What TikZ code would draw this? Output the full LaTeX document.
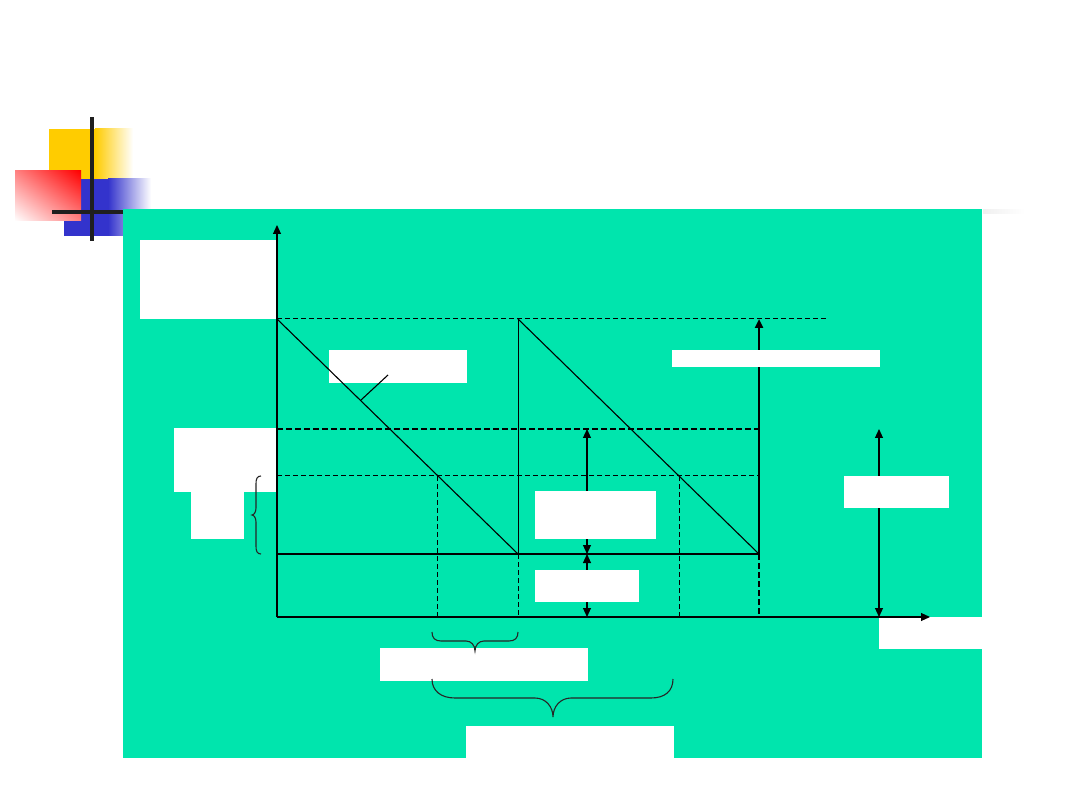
\documentclass[tikz,border=0pt]{standalone}
\usetikzlibrary{arrows.meta,shadings}
\definecolor{bggreen}{RGB}{0,229,173}
\definecolor{yel}{RGB}{255,204,0}
\definecolor{blu}{RGB}{51,51,204}
\definecolor{redl}{RGB}{255,130,130}
\begin{document}
\begin{tikzpicture}[x=1pt,y=-1pt,
  ln/.style={line width=1.1pt},
  thin dsh/.style={line width=1.0pt, dash pattern=on 5pt off 3pt},
  thick dsh/.style={line width=1.6pt, dash pattern=on 6pt off 3pt},
  tri/.style={-{Triangle[length=9pt,width=8pt]}},
  dbl/.style={{Triangle[length=9pt,width=8pt]}-{Triangle[length=9pt,width=8pt]}},
  wbox/.style={fill=white, draw=none, inner sep=0pt, anchor=north west},
  brace/.style={line width=1.1pt, draw=black!85}]
\useasboundingbox (0,0) rectangle (1080,810);
\fill[white] (0,0) rectangle (1080,810);
% decoration
\fill[yel] (49,129) rectangle (96,179);
\shade[left color=yel, right color=white] (95,129) rectangle (133,179);
\fill[blu] (64,179) rectangle (109,236);
\shade[left color=blu, right color=white] (108,179) rectangle (151,236);
\shade[upper right=red, lower left=white, upper left=redl, lower right=redl] (15,171) rectangle (81,221);
% green panel
\fill[bggreen] (123,209) rectangle (982,758);
\shade[left color=black!6, right color=white] (983,210) rectangle (1025,214);
\fill[black!88] (90,117) rectangle (94,241);
\fill[black!88] (52,210) rectangle (123,214);
% boxes under lines
\node[wbox, minimum width=137pt, minimum height=79pt] (b1) at (140,240) {};
\node[wbox, minimum width=138pt, minimum height=33pt] (b2) at (329,350) {};
\node[wbox, minimum width=103pt, minimum height=64pt] (b4) at (174,428) {};
\node[wbox, minimum width=53pt, minimum height=47pt] (b4b) at (191,492) {};
\node[wbox, minimum width=103pt, minimum height=32pt] (b8) at (879,617) {};
\node[wbox, minimum width=208pt, minimum height=33pt] (b9) at (380,648) {};
\node[wbox, minimum width=208pt, minimum height=32pt] (b10) at (466,726) {};
% coordinates
\coordinate (O) at (277,617);
\coordinate (Ytop) at (277,225);
\coordinate (Xend) at (930,617);
\coordinate (A) at (277,319);
\coordinate (B) at (518,319);
\coordinate (C) at (759,319);
\coordinate (Dend) at (828,319);
\coordinate (L) at (277,554);
\coordinate (P) at (518,554);
\coordinate (Q) at (759,554);
\coordinate (H1l) at (277,429);
\coordinate (H1r) at (759,429);
\coordinate (H2l) at (277,476);
\coordinate (H2r) at (759,476);
\coordinate (I1) at (437,476);
\coordinate (I1b) at (437,617);
\coordinate (I2) at (679,476);
\coordinate (I2b) at (679,617);
\coordinate (Pb) at (518,617);
\coordinate (Qb) at (759,617);
\coordinate (M1) at (587,429);
\coordinate (M2) at (587,554);
\coordinate (M3) at (587,617);
\coordinate (R1) at (879,429);
\coordinate (R2) at (879,617);
\coordinate (S1) at (361,400);
\coordinate (S2) at (388,375);
% axes
\draw[ln, tri] (O) -- (Ytop);
\draw[ln, tri] (O) -- (Xend);
% dashed levels
\draw[thin dsh] (A) -- (Dend);
\draw[thick dsh] (H1l) -- (H1r);
\draw[thin dsh] (H2l) -- (H2r);
% solid lines
\draw[ln] (A) -- (P);
\draw[ln] (B) -- (Q);
\draw[line width=1pt] (B) -- (P);
\draw[ln] (L) -- (Q);
\draw[ln] (S1) -- (S2);
\draw[line width=2.4pt, tri] (Q) -- (C);
% vertical dashed drops
\draw[thin dsh] (I1) -- (I1b);
\draw[thin dsh] (I2) -- (I2b);
\draw[thin dsh] (P) -- (Pb);
\draw[thick dsh] (Q) -- (Qb);
% double arrows
\draw[ln, dbl] (M1) -- (M2);
\draw[ln, dbl] (M2) -- (M3);
\draw[ln, dbl] (R1) -- (R2);
% boxes over arrows
\node[wbox, minimum width=208pt, minimum height=17pt] (b3) at (672,350) {};
\node[wbox, minimum width=121pt, minimum height=48pt] (b5) at (535,491) {};
\node[wbox, minimum width=104pt, minimum height=32pt] (b6) at (535,570) {};
\node[wbox, minimum width=105pt, minimum height=32pt] (b7) at (844,476) {};
% braces
\draw[brace] (261,476) .. controls (257,476) and (256,479) .. (256,484) -- (256,508)
  .. controls (256,512) and (254,515) .. (252,515)
  .. controls (254,515) and (256,518) .. (256,522) -- (256,546)
  .. controls (256,551) and (257,554) .. (261,554);
\draw[brace] (432,632) .. controls (432,638) and (435,641) .. (441,641) -- (466,641)
  .. controls (471,641) and (475,645) .. (475,651)
  .. controls (475,645) and (479,641) .. (484,641) -- (509,641)
  .. controls (515,641) and (518,638) .. (518,632);
\draw[brace] (432,679) .. controls (432,691) and (441,698) .. (455,698) -- (535,698)
  .. controls (546,698) and (553,707) .. (553,717)
  .. controls (553,707) and (560,698) .. (571,698) -- (651,698)
  .. controls (665,698) and (673,691) .. (673,679);
\end{tikzpicture}
\end{document}
